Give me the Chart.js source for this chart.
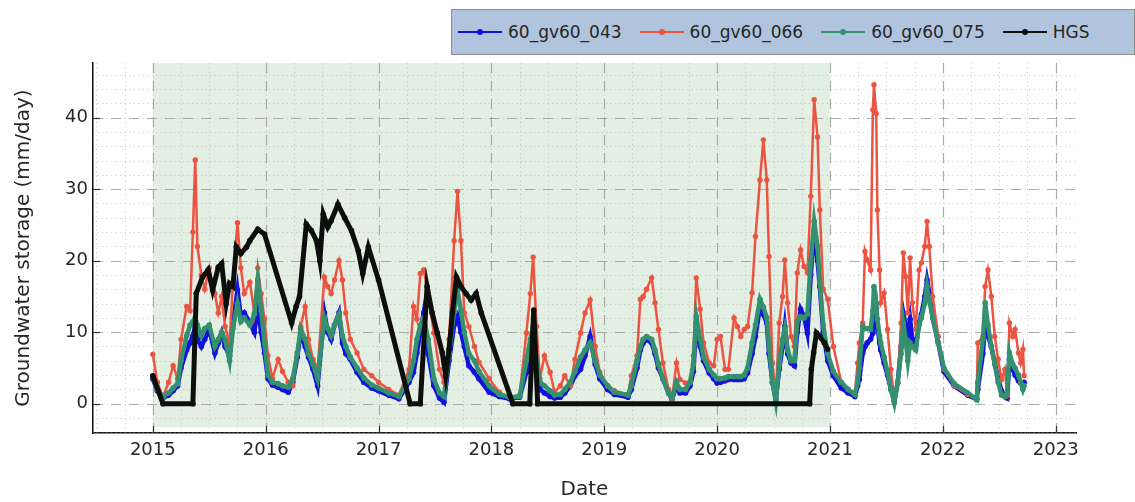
<!DOCTYPE html>
<html>
<head>
<meta charset="utf-8">
<script src="https://cdn.jsdelivr.net/npm/chart.js@4.4.1/dist/chart.umd.min.js"></script>
<style>
  html,body{margin:0;padding:0;background:#fff;}
  #wrap{position:relative;width:1135px;height:502px;}
  #legend{position:absolute;left:451px;top:9px;width:684px;height:46px;box-sizing:border-box;
    background:#b0c4de;border:1px solid #8c8c8c;display:flex;align-items:center;padding-left:6px;
    font-family:"DejaVu Sans",sans-serif;font-size:17px;color:#262626;}
  .item{display:flex;align-items:center;margin-right:18px;}
  .sw{position:relative;width:44px;height:12px;margin-right:6px;}
  .sw .ln{position:absolute;left:0;right:0;top:5px;height:2px;}
  .sw .dt{position:absolute;left:19px;top:3px;width:6px;height:6px;border-radius:50%;}
</style>
</head>
<body>
<div id="wrap">
  <canvas id="c" width="1135" height="502"></canvas>
  <div id="legend"></div>
</div>
<script>
// ---- data ----
const seriesNames = ['60_gv60_043', '60_gv60_066', '60_gv60_075', 'HGS'];
const yearTicks = [2015, 2016, 2017, 2018, 2019, 2020, 2021, 2022, 2023];
const yTicks = [0, 10, 20, 30, 40];
const shadeRange = [2015, 2021];

const tModel = [
  2015.00,2015.04,2015.09,2015.14,2015.18,2015.22,2015.25,2015.30,2015.33,2015.355,
  2015.376,2015.395,2015.43,2015.46,2015.50,2015.55,2015.58,2015.61,2015.64,2015.68,
  2015.71,2015.75,2015.78,2015.81,2015.86,2015.90,2015.93,2015.96,2015.99,
  2016.02,2016.06,2016.11,2016.15,2016.20,2016.24,2016.28,2016.31,2016.35,2016.38,
  2016.42,2016.46,2016.52,2016.55,2016.58,2016.61,2016.65,2016.68,2016.71,2016.75,
  2016.81,2016.87,2016.94,
  2017.00,2017.09,2017.18,2017.27,2017.31,2017.34,2017.37,2017.40,2017.44,2017.49,
  2017.54,2017.58,2017.625,2017.67,2017.70,2017.73,2017.76,2017.80,2017.85,2017.89,
  2017.98,2018.07,2018.16,2018.25,2018.31,2018.345,2018.37,2018.40,2018.43,2018.47,
  2018.52,2018.56,2018.61,2018.65,2018.70,2018.74,2018.79,2018.83,2018.875,2018.92,
  2018.96,
  2019.03,2019.09,2019.21,2019.24,2019.29,2019.32,2019.345,2019.375,2019.42,2019.45,
  2019.48,2019.52,2019.57,2019.60,2019.64,2019.67,2019.72,2019.76,2019.79,2019.815,
  2019.85,2019.88,2019.93,2019.97,2020.00,2020.03,2020.07,2020.10,2020.15,2020.18,
  2020.21,2020.24,2020.27,2020.31,2020.34,2020.38,2020.41,2020.44,2020.46,2020.49,
  2020.52,2020.55,2020.58,2020.60,2020.625,2020.655,2020.685,2020.71,2020.74,2020.77,
  2020.80,2020.83,2020.86,2020.89,2020.91,2020.94,2020.98,
  2021.03,2021.10,2021.16,2021.22,2021.245,2021.26,2021.29,2021.31,2021.33,2021.36,
  2021.38,2021.39,2021.41,2021.42,2021.44,2021.45,2021.48,2021.51,2021.54,2021.57,
  2021.60,2021.63,2021.65,2021.67,2021.69,2021.71,2021.73,2021.76,2021.79,2021.81,
  2021.84,2021.86,2021.88,2021.91,2021.96,2022.01,2022.10,2022.22,2022.30,2022.31,
  2022.355,2022.375,2022.40,2022.43,2022.46,2022.49,2022.52,2022.55,2022.57,2022.59,
  2022.62,2022.64,2022.67,2022.69,2022.71,2022.72
];

const gv043 = [
  3.5,1.8,0.8,1.2,1.8,2.5,5.0,7.5,8.5,9.5,
  10.8,9.0,8.0,9.0,10.4,7.1,8.5,9.9,8.0,6.7,
  11.0,15.9,12.2,12.7,11.3,10.0,13.6,10.0,7.1,
  3.5,2.6,2.3,2.0,1.6,3.0,6.5,9.9,8.0,6.5,
  4.8,2.5,12.7,10.0,9.0,11.0,12.7,8.5,7.0,6.2,
  4.4,3.0,2.2,
  1.8,1.2,0.7,3.0,4.4,7.1,10.0,12.7,7.0,2.5,
  0.8,0.2,6.0,11.0,12.2,10.0,8.0,5.3,4.4,3.5,
  1.6,1.0,0.7,0.9,4.4,8.0,9.9,4.8,2.0,1.5,
  1.0,0.8,0.9,1.5,2.5,3.9,4.8,6.7,9.4,5.5,
  3.5,
  2.0,1.3,0.9,2.0,5.0,7.5,8.5,9.0,8.5,7.0,
  5.0,3.5,1.5,0.6,2.5,1.5,1.5,2.5,4.5,11.3,
  8.0,6.0,4.3,3.5,2.9,3.0,3.2,3.4,3.4,3.4,
  3.4,3.5,4.3,7.0,9.4,13.6,12.5,11.3,7.0,3.0,
  0.6,4.8,8.0,10.8,7.0,5.7,5.3,10.0,13.2,12.2,
  9.9,18.0,24.3,20.0,16.4,10.0,6.0,
  3.9,2.2,1.5,1.0,2.5,3.4,7.1,8.0,8.5,9.0,
  9.9,11.0,13.2,11.0,8.5,7.5,5.7,4.0,2.0,0.4,
  2.9,8.0,12.7,11.0,9.4,11.8,9.0,8.0,11.3,12.5,
  15.0,17.3,15.5,12.0,8.5,4.5,2.5,1.2,0.6,2.0,
  7.0,11.3,9.5,8.0,5.7,3.5,1.8,1.0,0.8,6.2,
  4.8,4.0,3.2,2.9,2.5,3.0
];

const gv066 = [
  6.9,3.0,0.9,3.0,5.3,3.5,9.0,13.6,13.0,24.0,
  34.1,22.0,18.0,16.0,19.0,15.4,12.7,15.0,10.8,8.5,
  17.0,25.3,19.0,15.4,17.0,12.7,19.0,15.4,11.8,
  6.7,3.5,6.2,4.5,3.0,2.5,7.1,10.8,13.6,9.0,
  6.2,4.8,17.7,16.4,15.4,17.3,20.0,17.3,12.7,9.0,
  7.1,4.8,3.9,
  3.0,2.0,1.2,4.8,13.6,11.8,18.2,18.7,15.4,9.9,
  4.8,3.0,9.0,22.8,29.7,22.8,12.7,10.8,8.0,5.8,
  3.5,1.6,0.9,1.2,9.9,15.4,20.5,10.8,3.5,6.7,
  4.4,1.6,2.5,3.9,2.5,6.2,9.9,12.7,14.5,8.0,
  4.4,
  2.5,1.8,1.3,3.9,6.7,14.6,15.0,16.0,17.6,14.1,
  10.4,5.7,2.0,0.6,5.7,3.4,2.9,3.0,6.7,17.6,
  13.2,8.5,5.7,5.3,9.0,9.4,4.8,4.8,12.0,10.8,
  9.4,10.4,10.8,15.5,23.4,31.3,36.9,31.3,20.6,5.7,
  1.1,11.3,15.0,20.1,14.1,9.4,8.0,18.3,21.5,19.2,
  18.3,29.0,42.5,37.3,27.1,16.0,14.6,
  8.0,3.0,2.0,1.3,5.7,8.5,11.3,21.3,20.1,18.7,
  41.1,44.6,40.6,27.1,18.7,14.1,15.5,10.4,4.8,0.6,
  2.9,11.3,21.1,17.8,12.7,20.4,14.1,10.4,18.7,19.7,
  22.0,25.5,22.0,15.0,9.4,4.8,2.5,1.3,0.8,8.5,
  9.4,16.4,18.7,15.0,9.4,6.2,3.4,4.8,1.1,11.3,
  9.4,10.4,7.1,5.7,7.6,3.9
];

const gv075 = [
  3.8,2.0,1.0,1.5,2.2,2.8,6.0,9.5,11.0,11.5,
  12.0,11.0,9.5,10.5,11.0,8.0,9.0,10.0,9.0,6.0,
  10.5,14.0,11.5,12.0,11.0,12.5,17.3,13.0,8.5,
  4.0,3.0,2.8,2.5,2.3,3.5,7.0,10.5,9.0,7.0,
  5.5,3.5,12.0,10.5,9.5,11.0,12.5,9.5,8.0,6.5,
  5.0,3.6,2.6,
  2.2,1.5,1.0,3.5,6.0,9.0,11.0,12.0,9.0,3.5,
  1.5,1.0,7.0,13.0,15.9,13.0,10.0,7.0,6.0,4.5,
  2.5,1.3,0.9,1.0,6.0,9.0,10.8,6.0,3.0,2.5,
  1.8,1.2,1.3,2.0,3.0,4.5,6.5,7.5,8.5,6.0,
  4.0,
  2.5,1.6,1.2,2.5,6.0,8.0,9.0,9.4,9.0,7.5,
  5.5,3.5,1.5,0.8,3.0,2.0,2.0,3.0,5.5,12.2,
  9.0,6.5,4.8,4.0,3.5,3.5,3.6,3.8,3.8,3.8,
  3.8,4.0,5.0,8.5,11.0,14.6,13.5,12.0,8.0,3.0,
  0.3,5.5,9.0,10.5,7.5,6.0,6.0,11.5,12.2,12.0,
  12.5,20.0,25.5,22.0,17.0,11.0,7.0,
  4.5,3.0,2.0,1.3,3.0,5.0,10.8,10.5,10.5,10.4,
  13.0,16.4,14.0,11.8,9.5,8.5,6.5,4.5,2.0,0.1,
  3.0,7.0,11.3,9.0,6.0,8.5,8.0,7.5,11.0,12.0,
  14.0,16.4,14.5,12.0,8.5,5.0,2.8,1.5,0.6,3.0,
  9.0,14.1,11.0,8.0,5.5,3.0,1.2,1.0,1.5,7.1,
  5.5,5.0,4.0,3.0,2.0,2.5
];

const tHGS = [
  2015.00,2015.09,2015.355,2015.385,2015.44,2015.49,2015.53,2015.58,2015.61,2015.65,
  2015.68,2015.71,2015.74,2015.78,2015.83,2015.86,2015.93,2015.99,
  2016.23,2016.27,2016.30,2016.36,2016.405,2016.45,2016.48,2016.51,2016.55,2016.58,
  2016.64,2016.70,2016.76,2016.82,2016.86,2016.91,
  2017.00,2017.28,2017.37,2017.43,2017.475,2017.52,2017.565,2017.595,2017.625,2017.655,
  2017.69,2017.73,2017.775,2017.82,2017.865,2017.91,
  2018.19,2018.34,2018.375,2018.41,
  2020.82,2020.835,2020.855,2020.88,2020.91,2020.95,2020.98
];
const hgs = [
  3.9,0,0,15.4,17.7,18.7,15.9,19.1,19.6,14.0,
  16.8,16.4,21.9,21.0,21.9,22.8,24.4,23.7,
  11.3,13.6,15.0,25.1,24.2,22.8,20.0,26.5,24.7,25.6,
  27.9,26.0,24.2,21.4,18.2,21.9,
  17.3,0,0,16.4,12.7,9.9,7.1,3.9,7.6,12.7,
  17.7,16.4,15.4,14.5,15.4,12.7,
  0,0,13.1,0,
  0,4.8,7.1,9.9,9.4,8.5,7.6
];

// ---- styles ----
const colors = ['#1212e0', '#eb5440', '#34906f', '#0c0f0c'];
const FONT = '"DejaVu Sans", sans-serif';
const TXT = '#262626';

const pts = (xs, ys) => xs.map((x, i) => ({x: x, y: ys[i]}));

// legend (HTML text)
const lg = document.getElementById('legend');
seriesNames.forEach((n, i) => {
  const it = document.createElement('div'); it.className = 'item';
  const sw = document.createElement('div'); sw.className = 'sw';
  const ln = document.createElement('div'); ln.className = 'ln'; ln.style.background = colors[i];
  const dt = document.createElement('div'); dt.className = 'dt'; dt.style.background = colors[i];
  sw.appendChild(ln); sw.appendChild(dt);
  const tx = document.createElement('span'); tx.textContent = n;
  it.appendChild(sw); it.appendChild(tx); lg.appendChild(it);
});

const gridPlugin = {
  id: 'gridPlugin',
  beforeDatasetsDraw(chart) {
    const {ctx, chartArea: a, scales: {x, y}} = chart;
    ctx.save();
    // shaded period
    const x0 = x.getPixelForValue(shadeRange[0]), x1 = x.getPixelForValue(shadeRange[1]);
    ctx.fillStyle = '#e4efe3';
    ctx.fillRect(x0, a.top, x1 - x0, a.bottom - a.top - 6);
    // minor dotted grid
    ctx.strokeStyle = 'rgba(150,150,150,0.35)';
    ctx.lineWidth = 1;
    ctx.setLineDash([1.5, 3]);
    for (let v = Math.ceil(x.min * 4) / 4; v <= x.max; v += 0.25) {
      const px = Math.round(x.getPixelForValue(v)) + 0.5;
      ctx.beginPath(); ctx.moveTo(px, a.top); ctx.lineTo(px, a.bottom); ctx.stroke();
    }
    for (let v = Math.ceil(y.min / 2) * 2; v <= y.max; v += 2) {
      const py = Math.round(y.getPixelForValue(v)) + 0.5;
      ctx.beginPath(); ctx.moveTo(a.left, py); ctx.lineTo(a.right, py); ctx.stroke();
    }
    // major dashed grid
    ctx.strokeStyle = 'rgba(150,150,150,0.75)';
    ctx.lineWidth = 1.2;
    ctx.setLineDash([10, 8]);
    yearTicks.forEach(v => {
      const px = Math.round(x.getPixelForValue(v)) + 0.5;
      ctx.beginPath(); ctx.moveTo(px, a.top); ctx.lineTo(px, a.bottom); ctx.stroke();
    });
    yTicks.forEach(v => {
      const py = Math.round(y.getPixelForValue(v)) + 0.5;
      ctx.beginPath(); ctx.moveTo(a.left, py); ctx.lineTo(a.right, py); ctx.stroke();
    });
    // inward tick marks
    ctx.setLineDash([]);
    ctx.strokeStyle = '#333';
    ctx.lineWidth = 1.2;
    yearTicks.forEach(v => {
      const px = Math.round(x.getPixelForValue(v)) + 0.5;
      ctx.beginPath(); ctx.moveTo(px, a.bottom); ctx.lineTo(px, a.bottom - 7); ctx.stroke();
    });
    yTicks.forEach(v => {
      const py = Math.round(y.getPixelForValue(v)) + 0.5;
      ctx.beginPath(); ctx.moveTo(a.left, py); ctx.lineTo(a.left + 7, py); ctx.stroke();
    });
    ctx.restore();
  }
};

const mk = (i, xs, ys, bw, pr, order) => ({
  label: seriesNames[i],
  data: pts(xs, ys),
  borderColor: colors[i],
  backgroundColor: colors[i],
  pointBackgroundColor: colors[i],
  pointBorderWidth: 0,
  borderWidth: bw,
  pointRadius: pr,
  tension: 0,
  order: order
});

new Chart(document.getElementById('c'), {
  type: 'line',
  data: {
    datasets: [
      mk(0, tModel, gv043, 4.5, 2.8, 3),
      mk(1, tModel, gv066, 2.5, 2.7, 2),
      mk(2, tModel, gv075, 4.5, 2.8, 1),
      mk(3, tHGS, hgs, 5, 2.8, 0)
    ]
  },
  options: {
    responsive: false,
    animation: false,
    layout: {padding: {top: 63, right: 59, left: 0, bottom: 0}},
    plugins: {legend: {display: false}, tooltip: {enabled: false}},
    scales: {
      x: {
        type: 'linear', min: 2014.47, max: 2023.18,
        afterFit(s) { s.height = 69; },
        afterBuildTicks(s) { s.ticks = yearTicks.map(v => ({value: v})); },
        grid: {display: false, drawTicks: false},
        border: {display: true, color: '#111', width: 1.5},
        ticks: {font: {family: FONT, size: 18}, color: TXT, padding: 7, maxRotation: 0, autoSkip: false,
                callback: v => String(v)},
        title: {display: true, text: 'Date', font: {family: FONT, size: 20}, color: TXT,
                padding: {top: 0, bottom: 0}}
      },
      y: {
        min: -4.1, max: 47.65,
        afterFit(s) { s.width = 93; },
        afterBuildTicks(s) { s.ticks = yTicks.map(v => ({value: v})); },
        grid: {display: false, drawTicks: false},
        border: {display: true, color: '#111', width: 1.5},
        ticks: {font: {family: FONT, size: 18}, color: TXT, padding: 5, callback: v => String(v)},
        title: {display: true, text: 'Groundwater storage (mm/day)', font: {family: FONT, size: 20}, color: TXT,
                padding: {top: 12, bottom: 0}}
      }
    }
  },
  plugins: [gridPlugin]
});
</script>
</body>
</html>
